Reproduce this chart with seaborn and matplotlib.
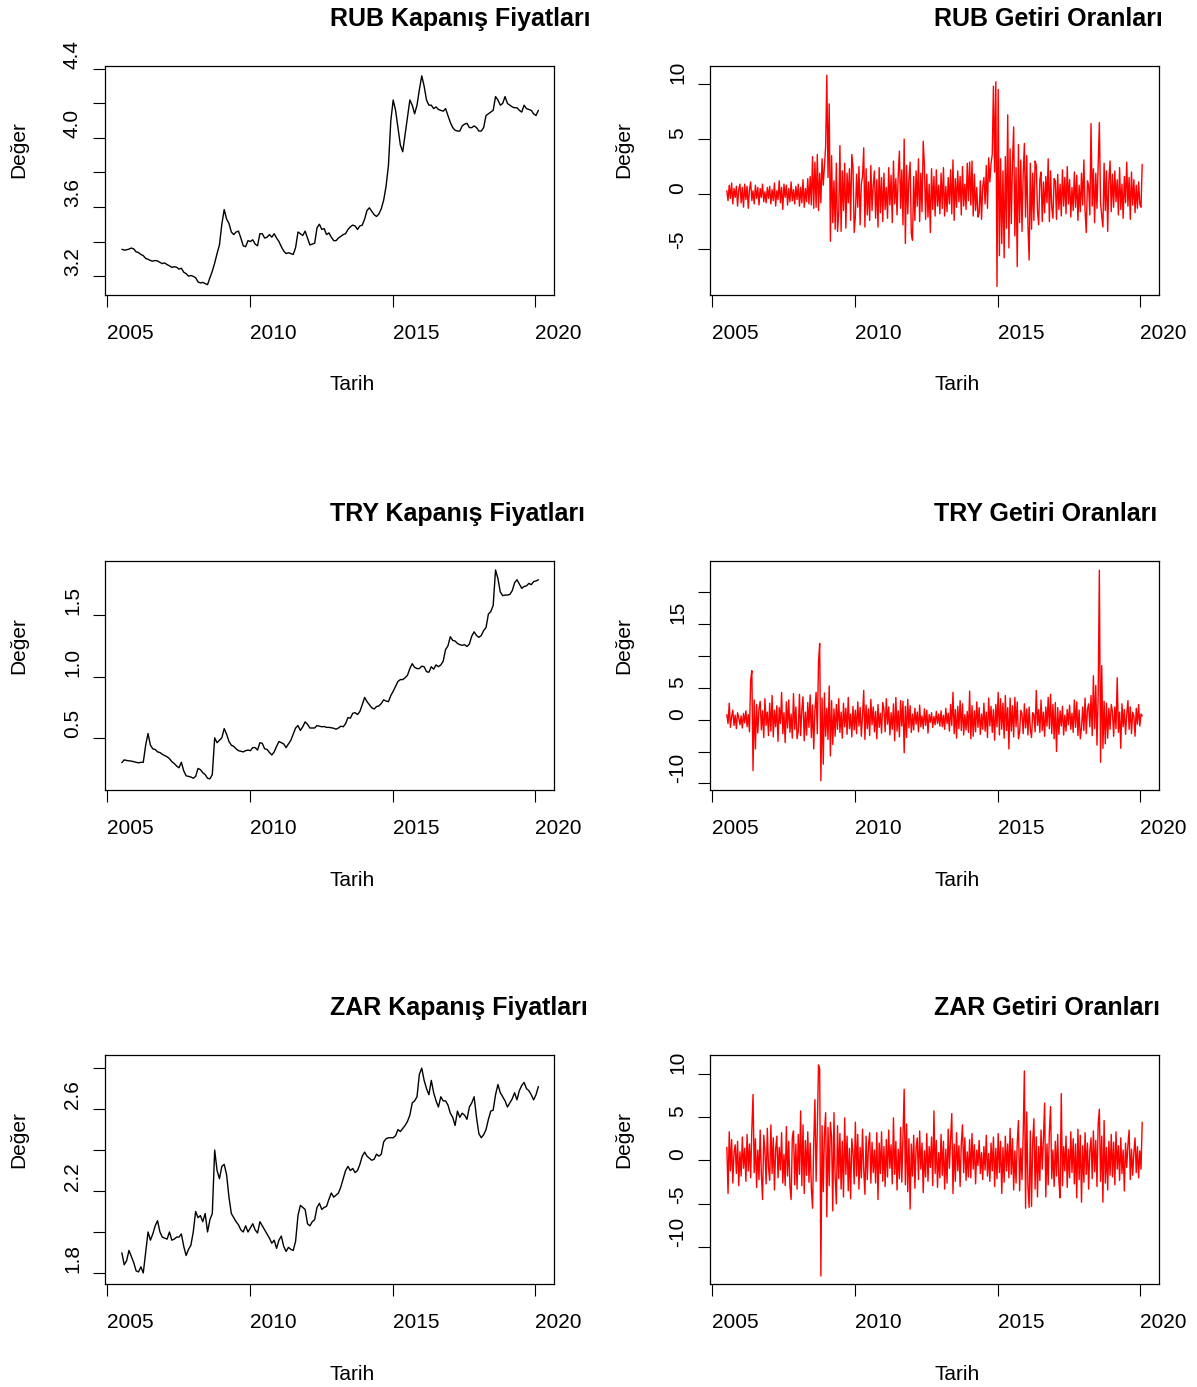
import numpy as np
import seaborn as sns
import matplotlib.pyplot as plt

# monthly log closing prices, Jul 2005 .. Feb 2020
rub_price = [
    3.355, 3.350, 3.352, 3.356, 3.362, 3.357,
    3.340, 3.336, 3.325, 3.318, 3.302, 3.297, 3.290, 3.286, 3.290, 3.287, 3.279, 3.272,
    3.276, 3.266, 3.259, 3.250, 3.254, 3.251, 3.240, 3.245, 3.222, 3.214, 3.199, 3.203,
    3.198, 3.190, 3.166, 3.160, 3.163, 3.156, 3.150, 3.190, 3.228, 3.275, 3.330, 3.380,
    3.500, 3.585, 3.530, 3.505, 3.455, 3.440, 3.455, 3.460, 3.420, 3.375, 3.370, 3.405,
    3.400, 3.410, 3.385, 3.375, 3.445, 3.445, 3.420, 3.425, 3.440, 3.425, 3.445, 3.420,
    3.400, 3.370, 3.345, 3.330, 3.335, 3.330, 3.325, 3.365, 3.455, 3.445, 3.435, 3.460,
    3.420, 3.380, 3.385, 3.390, 3.480, 3.500, 3.470, 3.475, 3.440, 3.450, 3.425, 3.405,
    3.405, 3.420, 3.430, 3.440, 3.445, 3.470, 3.485, 3.495, 3.490, 3.470, 3.490, 3.495,
    3.530, 3.580, 3.595, 3.575, 3.555, 3.545, 3.560, 3.590, 3.640, 3.720, 3.840, 4.100,
    4.220, 4.160, 4.060, 3.960, 3.920, 4.020, 4.120, 4.220, 4.190, 4.140, 4.190, 4.280,
    4.360, 4.300, 4.220, 4.190, 4.190, 4.170, 4.180, 4.165, 4.160, 4.155, 4.170, 4.130,
    4.090, 4.060, 4.045, 4.040, 4.040, 4.070, 4.080, 4.085, 4.060, 4.060, 4.070, 4.060,
    4.040, 4.040, 4.060, 4.130, 4.140, 4.150, 4.160, 4.240, 4.220, 4.190, 4.200, 4.240,
    4.200, 4.190, 4.180, 4.175, 4.175, 4.160, 4.150, 4.190, 4.170, 4.165, 4.160, 4.140,
    4.130, 4.160,
]
try_price = [
    0.297, 0.320, 0.315, 0.312, 0.310, 0.305,
    0.300, 0.296, 0.300, 0.300, 0.440, 0.535, 0.440, 0.410, 0.405, 0.385, 0.380, 0.365,
    0.355, 0.345, 0.330, 0.305, 0.290, 0.270, 0.255, 0.300, 0.230, 0.190, 0.185, 0.180,
    0.170, 0.185, 0.250, 0.240, 0.215, 0.200, 0.170, 0.165, 0.200, 0.500, 0.460, 0.480,
    0.500, 0.575, 0.530, 0.470, 0.440, 0.430, 0.410, 0.395, 0.390, 0.385, 0.395, 0.400,
    0.395, 0.420, 0.420, 0.400, 0.460, 0.455, 0.410, 0.405, 0.380, 0.360, 0.385, 0.430,
    0.470, 0.460, 0.450, 0.420, 0.450, 0.480, 0.530, 0.580, 0.600, 0.560, 0.590, 0.630,
    0.610, 0.580, 0.580, 0.580, 0.600, 0.595, 0.590, 0.592, 0.585, 0.585, 0.582, 0.578,
    0.570, 0.580, 0.595, 0.590, 0.615, 0.665, 0.660, 0.700, 0.705, 0.690, 0.715, 0.770,
    0.830, 0.795, 0.770, 0.745, 0.735, 0.755, 0.760, 0.780, 0.810, 0.800, 0.795, 0.845,
    0.880, 0.920, 0.960, 0.975, 0.975, 0.990, 1.010, 1.065, 1.105, 1.075, 1.065, 1.065,
    1.085, 1.080, 1.040, 1.035, 1.080, 1.060, 1.095, 1.080, 1.095, 1.125, 1.220, 1.250,
    1.325, 1.295, 1.290, 1.270, 1.260, 1.255, 1.260, 1.245, 1.265, 1.330, 1.365, 1.335,
    1.320, 1.335, 1.375, 1.400, 1.510, 1.530, 1.580, 1.870, 1.800, 1.690, 1.660, 1.665,
    1.665, 1.670, 1.700, 1.765, 1.790, 1.755, 1.720, 1.735, 1.740, 1.760, 1.750, 1.775,
    1.780, 1.790,
]
zar_price = [
    1.898, 1.840, 1.860, 1.910, 1.880, 1.850,
    1.810, 1.805, 1.830, 1.800, 1.900, 2.000, 1.960, 1.990, 2.030, 2.055, 2.000, 1.975,
    1.970, 1.965, 2.000, 1.960, 1.965, 1.975, 1.975, 1.990, 1.930, 1.885, 1.915, 1.935,
    2.000, 2.100, 2.070, 2.080, 2.050, 2.090, 2.000, 2.060, 2.090, 2.400, 2.300, 2.260,
    2.320, 2.330, 2.280, 2.170, 2.090, 2.070, 2.050, 2.035, 2.010, 2.000, 2.030, 2.000,
    2.020, 2.040, 2.010, 1.995, 2.050, 2.030, 2.010, 1.990, 1.970, 1.945, 1.960, 1.920,
    1.960, 1.980, 1.930, 1.905, 1.925, 1.915, 1.910, 1.955, 2.080, 2.130, 2.120, 2.110,
    2.040, 2.030, 2.050, 2.060, 2.120, 2.140, 2.110, 2.120, 2.125, 2.160, 2.190, 2.170,
    2.180, 2.190, 2.220, 2.260, 2.300, 2.320, 2.300, 2.310, 2.290, 2.300, 2.330, 2.370,
    2.390, 2.370, 2.360, 2.350, 2.355, 2.380, 2.370, 2.380, 2.440, 2.455, 2.460, 2.460,
    2.460, 2.470, 2.500, 2.490, 2.505, 2.520, 2.540, 2.570, 2.630, 2.640, 2.660, 2.770,
    2.800, 2.740, 2.700, 2.670, 2.740, 2.680, 2.640, 2.610, 2.660, 2.640, 2.640, 2.620,
    2.580, 2.560, 2.520, 2.590, 2.560, 2.580, 2.570, 2.550, 2.610, 2.630, 2.660, 2.560,
    2.480, 2.460, 2.475, 2.500, 2.550, 2.590, 2.595, 2.670, 2.720, 2.680, 2.660, 2.640,
    2.610, 2.630, 2.650, 2.680, 2.645, 2.690, 2.715, 2.730, 2.700, 2.690, 2.670, 2.645,
    2.670, 2.710,
]

# returns (%), two readings per month, Jul 2005 .. Jan 2020
rub_ret = [
    0.3, -0.6, 0.8, -0.4, 1.0, -0.9, 0.5, -0.3, 0.7, -1.1, 0.4, 0.9,
    -0.8, 0.6, -1.2, 0.9, -0.5, 0.7, -1.3, 0.4, 1.1, -0.6, 0.3, -0.9, 0.8, -0.4, 0.6, -1.0, 0.5, -0.3, 0.9, -0.7, 0.2, -0.8, 0.6, -0.4,
    0.7, -0.9, 0.4, -0.6, 1.0, -1.1, 0.3, -0.5, 1.2, -0.8, 0.6, -1.4, 0.9, -0.3, 0.8, -1.0, 0.5, -0.7, 1.1, -0.6, 0.4, -0.9, 0.7, -0.5,
    0.9, -1.1, 0.6, -0.8, 1.3, -1.2, 0.5, -0.7, 1.4, -0.9, 1.6, -1.0, 3.4, -1.3, 2.9, -1.2, 3.6, -1.5, 1.9, -0.8, 3.2, 0.8, 2.6, 4.3,
    10.8, 1.5, 8.2, -4.3, 3.5, -2.6, 1.2, -3.2, 2.8, -3.4, -1.8, 4.4, -3.4, 2.1, -1.5, 2.8, -3.1, 1.9, -0.8, 2.3, -2.4, 3.6, 2.5, -3.5,
    -2.0, 1.8, -1.2, 2.5, -2.8, 0.9, 1.6, 4.2, -3.0, 2.3, -1.9, 1.1, -2.4, 2.6, -1.5, 0.8, 2.1, -2.2, 1.3, -3.0, 2.4, -1.7, 1.5, -2.5,
    1.9, -1.4, 0.6, -2.2, 2.4, -1.0, 1.7, -2.6, 3.0, -0.9, 1.4, -1.9, 1.8, 3.9, -1.3, 2.2, -2.8, 5.0, -4.5, 2.6, -1.8, 1.4, 2.9, -3.6,
    -4.2, 1.6, -2.4, 2.1, -1.1, 3.2, -2.5, 1.9, -1.6, 4.8, 2.6, -2.3, 1.8, -2.1, 0.9, -3.5, 2.3, -1.4, 1.6, -2.0, 2.2, -1.1, 0.8, -1.8,
    1.9, -1.3, 2.4, -2.0, 0.7, -1.6, 1.5, -0.9, 2.2, -1.8, 3.1, -2.4, 1.4, -1.2, 2.1, -0.7, 1.6, -1.9, 2.5, -1.1, 0.9, -1.4, 2.8, -0.6,
    2.9, -1.0, 3.0, -2.0, 1.8, -1.5, 0.6, -2.1, -1.7, 1.2, -2.3, 0.7, 1.5, -0.9, 2.6, -1.3, 3.3, 1.1, 2.8, 3.6, 9.8, 2.0, 10.2, -8.4,
    9.5, -5.6, 3.2, -4.5, 2.1, -5.8, 3.4, -3.1, 7.2, -4.9, 4.1, -2.7, 2.9, 6.1, -3.8, 2.4, -6.6, 4.5, -2.6, 3.1, -3.4, 1.8, 4.6, -2.1,
    3.5, -2.9, -6.0, 2.8, -3.2, 1.9, -2.4, 3.0, 2.6, -1.5, -2.8, 1.3, 2.0, -2.5, 1.1, -1.7, 1.6, -0.8, 3.2, -2.5, 2.1, -1.2, -2.2, 1.4,
    1.2, -2.3, 1.8, -1.4, 0.9, -2.0, 2.2, -1.1, 1.5, -1.8, 2.5, -0.9, 1.3, -2.1, 0.6, -1.5, 2.0, -1.2, 1.7, -2.4, 0.8, -1.6, 1.9, -1.0,
    3.1, -1.5, -3.5, 1.2, 0.7, -1.9, 6.4, -1.1, 2.3, -2.6, 1.9, -1.3, 2.5, 6.5, -0.8, -2.0, -3.0, 2.8, -1.5, 2.1, -3.4, 1.2, 3.0, -1.6,
    1.8, -1.2, 2.1, -0.7, 1.3, -1.9, 2.4, -1.4, 0.9, -2.2, 1.6, -0.8, 2.9, -1.1, 1.5, -2.3, 2.0, -1.0, 1.3, -1.7, 0.8, -1.3, 1.1, -0.9,
    -1.2, 2.7,
]
try_ret = [
    0.8, -0.6, 2.6, -1.2, 0.4, 1.5, -0.9, 0.7, -1.4, 1.1, 0.3, -0.8,
    0.6, -1.3, 1.0, -0.5, 1.4, -1.1, 0.8, -1.9, 6.2, 7.7, -8.0, 3.1, -4.6, 2.4, -2.1, 1.7, 2.9, -1.6, 1.4, -2.8, 3.3, -0.9, 1.2, -2.5,
    2.6, -1.8, 3.8, -2.7, 1.5, -1.1, 2.2, -3.4, 1.9, -0.6, 4.3, -2.2, 1.1, -3.6, 2.8, -1.3, 3.1, -2.0, 0.9, -2.9, 4.1, -1.5, 2.0, -3.0,
    -1.8, 4.0, -2.5, 1.6, 3.6, -3.3, 1.2, -2.4, 2.7, -1.2, 3.9, -2.8, 2.3, -4.6, 1.5, 4.3, -2.2, 9.0, 12.0, -9.6, 3.4, -7.0, 4.2, -2.6,
    1.8, -3.1, 5.3, -5.7, 3.0, -3.9, 1.7, -2.6, 2.4, -1.5, 3.3, -2.0, 1.2, -2.9, 2.6, -1.1, 1.8, -2.3, 3.5, -1.4, 0.9, -2.7, 2.1, -1.6,
    1.5, -2.2, 2.8, -1.0, 1.9, -2.6, 0.7, 4.6, -3.1, 2.3, -1.4, 1.7, -2.5, 3.2, -0.8, 2.0, -1.9, 1.3, -3.0, 2.4, -1.2, 1.0, -2.1, 2.7,
    1.6, -1.9, 3.3, -0.7, 2.0, -2.4, 1.1, -1.5, 2.5, -3.3, 3.5, -1.8, 1.4, -2.7, 3.0, -1.0, 2.9, -5.2, 2.1, -2.8, 3.2, -1.3, 2.2, -2.0,
    0.9, -1.6, 1.8, -0.7, 1.2, -1.9, 2.3, -1.1, 0.6, -1.4, 1.7, -0.9, 1.5, -2.1, 0.8, -0.4, 1.1, -1.2, 0.5, -0.8, 1.3, -0.6, 0.9, -1.0,
    1.4, -1.1, 0.7, -1.5, 1.8, -0.6, 1.0, -1.8, 2.4, -0.9, 4.3, -2.2, 1.6, -2.9, 2.1, -1.4, 3.0, -1.7, 2.5, -2.4, 0.8, -1.6, 1.3, -2.0,
    4.5, -3.0, 2.2, -2.6, 1.4, -1.9, 2.8, -1.2, 1.9, -2.3, 0.9, -1.5, 2.6, -1.8, 1.2, -2.8, 3.4, -1.0, 2.1, -2.0, 1.6, -3.2, 2.4, -1.1,
    4.3, -2.4, 3.3, -1.5, 2.6, -2.9, 3.8, -1.7, 1.9, -4.6, 3.4, -1.8, 2.2, -2.7, 3.5, -1.1, 2.8, -3.0, -2.0, 1.5, 0.9, -2.2, 2.5, -1.3,
    1.7, -2.4, 2.0, -1.5, -2.8, 1.1, 0.8, -1.9, 4.6, -0.9, 1.6, -2.0, 3.1, -1.7, 1.2, -2.6, 2.0, -1.0, 3.5, -1.4, 4.0, -2.2, 2.4, -3.0,
    2.7, -5.0, 1.9, -2.3, 1.4, -1.0, 2.1, -2.4, 0.7, -1.8, 1.6, -0.8, 2.3, -1.5, 1.0, -2.0, 3.1, -1.2, 2.8, -2.5, 1.5, -3.0, -1.3, 2.0,
    -1.7, 3.4, -2.2, 1.6, 2.5, -1.1, 3.8, -2.5, 6.9, -1.4, 5.4, -4.0, 3.6, 23.5, -6.7, 8.5, -4.5, 2.9, -3.8, 2.6, -2.9, 1.8, -1.5, 2.4,
    1.3, -2.6, 2.0, -1.4, 6.6, -2.0, 1.2, -4.5, 2.5, -1.1, 1.6, -2.3, 0.8, 3.0, -1.5, 2.0, -2.2, 1.2, 0.6, -2.6, 1.8, -0.7, 2.4, -1.0,
    0.9, 0.6,
]
zar_ret = [
    1.5, -3.8, 3.3, -1.2, 2.4, -2.6, 0.9, 1.8, -1.5, 2.2, -2.9, 1.0,
    -1.8, 2.7, -0.9, 1.4, -2.4, 3.0, -1.2, 1.9, -2.0, 3.6, 7.6, -1.4, 2.5, -3.1, 1.2, -2.2, 3.5, -1.6, -4.5, 2.9, 1.1, -2.7, 3.7, -0.8,
    -2.3, 4.1, -1.5, 2.6, -3.4, 1.3, 2.8, -2.0, 1.5, -1.1, 3.2, -2.6, 0.7, -2.9, 3.9, -1.8, 2.2, -3.0, -4.5, 2.6, 3.4, -2.8, 1.9, -3.3,
    3.0, -1.6, 5.7, -2.9, 4.1, -3.8, 2.3, -1.7, 3.3, -2.5, 2.0, -3.2, -5.5, 2.0, 7.0, -2.4, 3.5, 11.0, 10.5, -13.3, 4.0, -3.6, 3.1, 5.5,
    -6.5, 3.8, -2.9, 4.4, 2.7, -5.8, 5.5, -1.9, -5.0, 4.0, -2.1, 3.1, -3.3, 2.2, -4.2, 4.9, -1.6, 2.8, -3.5, 1.4, -4.4, 2.5, 1.0, -2.7,
    4.4, -1.8, 3.0, -3.3, 1.5, -2.0, 3.6, -1.1, -3.9, 2.8, -2.2, 1.7, 3.2, -2.6, 2.1, -1.4, 1.2, -2.6, 3.2, -4.5, 2.0, -1.5, 3.3, -2.4,
    1.6, -3.0, 2.4, -1.9, 3.5, -0.9, 1.8, -2.7, 4.9, -1.6, 2.2, -3.4, 1.3, -2.1, 3.8, -2.5, 3.0, 8.2, -2.8, 4.2, -3.6, 2.5, -5.6, 1.9,
    -1.8, 2.9, -3.2, 1.4, 2.6, -2.2, 3.4, -1.0, 2.0, -3.7, 1.1, -1.9, 3.1, -2.4, 1.6, -0.8, 2.7, -2.9, 5.7, -1.5, 2.3, -3.1, 0.9, -2.0,
    3.0, -1.7, 2.2, -3.3, 1.3, -2.6, 3.6, -0.9, 2.5, 5.4, -3.8, 1.9, -2.4, 3.2, -1.2, 1.7, -3.0, 2.0, 4.1, -1.4, 2.6, -2.3, 1.0, -1.9,
    2.4, -2.0, 3.1, -1.0, 1.8, -2.7, 1.2, -0.6, 2.3, -1.5, 0.9, -2.2, 1.6, -1.1, 2.9, -1.8, 0.8, -2.4, 2.0, -1.2, 2.7, -3.0, 1.4, -2.1,
    3.1, -1.4, 2.2, -3.8, 1.5, -2.5, 2.8, -1.2, 1.9, -2.0, 3.7, -1.6, 2.5, -3.4, 1.1, -2.6, 2.0, 4.6, -3.5, 1.4, -2.2, 3.0, 10.3, -5.5,
    5.6, -3.1, -5.4, 3.4, -5.3, 2.1, 4.8, -3.3, 2.7, -4.2, 1.6, -2.3, 3.5, -1.0, 2.4, 6.6, -4.2, 1.9, -2.8, 3.3, 6.2, -2.1, 1.2, -3.0,
    2.2, -1.8, 3.0, -2.4, -4.3, 7.7, -2.9, 1.6, -1.2, 2.8, -3.1, 1.3, -2.0, 3.3, -1.4, 2.5, -2.7, 1.9, -4.3, 3.6, -2.2, 2.9, -4.8, 1.7,
    -2.5, 3.2, -1.6, 2.0, -3.3, 1.1, 2.6, -2.1, 3.4, -1.3, 2.3, -3.0, 4.2, 5.9, -2.4, 2.8, -4.8, 4.6, -2.6, 1.5, -3.4, 2.2, -1.7, 3.0,
    -1.9, 2.1, -2.8, 3.3, -1.0, 1.7, -2.3, 2.6, -1.5, 1.2, -3.5, 2.0, -0.8, 1.8, 3.5, -2.2, 1.3, -1.7, 0.9, 2.6, -1.4, 1.6, -2.0, 1.1,
    -1.0, 4.4,
]

x_ticks = [2005, 2010, 2015, 2020]
x_tick_labels = ["2005", "2010", "2015", "2020"]

rub_price_ticks = [3.2, 3.4, 3.6, 3.8, 4.0, 4.2, 4.4]
rub_price_labels = ["3.2", "", "3.6", "", "4.0", "", "4.4"]
rub_ret_ticks = [-5, 0, 5, 10]
rub_ret_labels = ["-5", "0", "5", "10"]
try_price_ticks = [0.5, 1.0, 1.5]
try_price_labels = ["0.5", "1.0", "1.5"]
try_ret_ticks = [-10, -5, 0, 5, 10, 15, 20]
try_ret_labels = ["-10", "", "0", "5", "", "15", ""]
zar_price_ticks = [1.8, 2.0, 2.2, 2.4, 2.6, 2.8]
zar_price_labels = ["1.8", "", "2.2", "", "2.6", ""]
zar_ret_ticks = [-10, -5, 0, 5, 10]
zar_ret_labels = ["-10", "-5", "0", "5", "10"]

# time axis in decimal years, like an R ts object
t_price = 2005.52 + np.arange(len(rub_price)) / 12
t_ret = 2005.52 + np.arange(len(rub_ret)) / 24

panels = [
    ("RUB Kapanış Fiyatları", t_price, rub_price, "black", (3.090, 4.417), rub_price_ticks, rub_price_labels),
    ("RUB Getiri Oranları", t_ret, rub_ret, "red", (-9.18, 11.64), rub_ret_ticks, rub_ret_labels),
    ("TRY Kapanış Fiyatları", t_price, try_price, "black", (0.074, 1.943), try_price_ticks, try_price_labels),
    ("TRY Getiri Oranları", t_ret, try_ret, "red", (-11.05, 24.95), try_ret_ticks, try_ret_labels),
    ("ZAR Kapanış Fiyatları", t_price, zar_price, "black", (1.746, 2.864), zar_price_ticks, zar_price_labels),
    ("ZAR Getiri Oranları", t_ret, zar_ret, "red", (-14.22, 12.14), zar_ret_ticks, zar_ret_labels),
]

sns.set_theme(style="white")
plt.rcParams["font.family"] = ["Liberation Sans", "DejaVu Sans"]
plt.rcParams["text.color"] = "black"

W, H = 1197, 1387
fig = plt.figure(figsize=(W / 100, H / 100), dpi=100)

col_left = [105, 710]
row_top = [66, 561, 1055]
box_w, box_h = 449, 229

for i, (title, t, vals, color, ylim, yticks, ylabels) in enumerate(panels):
    x0 = col_left[i % 2]
    y0 = row_top[i // 2]
    ax = fig.add_axes([x0 / W, 1 - (y0 + box_h) / H, box_w / W, box_h / H])

    sns.lineplot(x=t, y=vals, ax=ax, color=color, linewidth=1.0, errorbar=None)

    ax.set_xlim(2004.93, 2020.65)
    ax.set_ylim(*ylim)
    ax.set_xlabel("")
    ax.set_ylabel("")

    for sp in ax.spines.values():
        sp.set_color("black")
        sp.set_linewidth(0.9)

    ax.set_xticks(x_ticks, x_tick_labels)
    ax.set_yticks(yticks, ylabels)
    ax.tick_params(axis="both", direction="out", length=8.6, width=0.8,
                   color="black", labelsize=15, labelcolor="black",
                   bottom=True, left=True)
    ax.tick_params(axis="x", pad=12.5)
    ax.tick_params(axis="y", pad=8)
    for lbl in ax.get_xticklabels():
        lbl.set_ha("left")
    for lbl in ax.get_yticklabels():
        lbl.set_rotation(90)
        lbl.set_ha("right")
        lbl.set_va("bottom")

    # R-style text: anchored at the box centre, not centred on it
    cx = (x0 + box_w / 2) / W
    fig.text(cx, 1 - (y0 - 47) / H, title, ha="left", va="center",
             fontsize=18, fontweight="bold", color="black")
    fig.text(cx, 1 - (y0 + box_h + 90) / H, "Tarih", ha="left", va="center",
             fontsize=15, color="black")
    fig.text((x0 - 86) / W, 1 - (y0 + box_h / 2 - 2) / H, "Değer",
             rotation=90, ha="center", va="bottom", fontsize=15, color="black")

fig.savefig("out.png", dpi=100)
